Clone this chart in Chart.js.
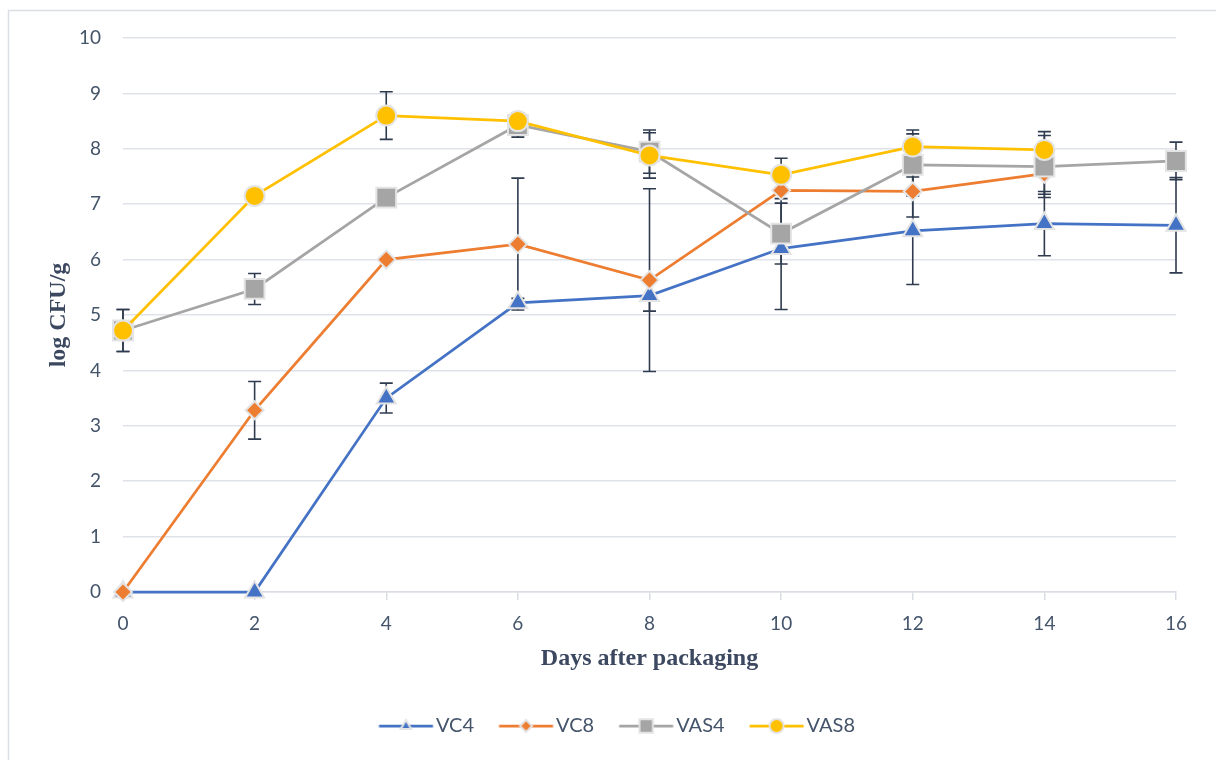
<!DOCTYPE html>
<html>
<head>
<meta charset="utf-8">
<title>log CFU/g vs days after packaging</title>
<script src="https://cdn.jsdelivr.net/npm/chart.js@4.4.1/dist/chart.umd.min.js"></script>
<style>
  html, body { margin: 0; padding: 0; background: #ffffff; }
  #wrap { position: relative; width: 1216px; height: 760px; }
  canvas { display: block; }
</style>
</head>
<body>
<div id="wrap"><canvas id="chart" width="1216" height="760"></canvas></div>
<script>
// Days after packaging
const days = [0, 2, 4, 6, 8, 10, 12, 14, 16];

// Mean counts (log CFU/g) per treatment
const VC4   = [0, 0, 3.5, 5.22, 5.35, 6.2, 6.52, 6.65, 6.62];
const VC8   = [0, 3.28, 6.0, 6.28, 5.63, 7.25, 7.23, 7.55, null];
const VAS4  = [4.72, 5.47, 7.12, 8.43, 7.95, 6.47, 7.71, 7.68, 7.78];
const VAS8  = [4.72, 7.15, 8.6, 8.5, 7.88, 7.53, 8.04, 7.98, null];

// Standard deviations (±)
const VC4_sd  = [0, 0, 0.27, 0.08, 0.28, 1.1, 0.97, 0.58, 0.86];
const VC8_sd  = [0, 0.52, 0.04, 1.19, 1.65, 0.15, 0.46, 0.37, null];
const VAS4_sd = [0.38, 0.28, 0.05, 0.22, 0.39, 0.55, 0.56, 0.56, 0.34];
const VAS8_sd = [0.38, 0.08, 0.43, 0.08, 0.41, 0.3, 0.3, 0.33, null];

// Y axis tick values
const yTicks = [0, 1, 2, 3, 4, 5, 6, 7, 8, 9, 10];

const TEXT = '#44546A';
const TITLE = '#3B4860';
const GRID = '#DFE3E9';
const ERR = '#2F3B4F';
const MARK_BORDER = '#E4E4E4';

const series = [
  { label: 'VC4',  values: VC4,  sd: VC4_sd,  color: '#4472C4', style: 'triangle', radius: 11, lr: 6 },
  { label: 'VC8',  values: VC8,  sd: VC8_sd,  color: '#ED7D31', style: 'rectRot',  radius: 9,  lr: 6 },
  { label: 'VAS4', values: VAS4, sd: VAS4_sd, color: '#A5A5A5', style: 'rect',     radius: 14, lr: 9.5 },
  { label: 'VAS8', values: VAS8, sd: VAS8_sd, color: '#FFC000', style: 'circle',   radius: 10, lr: 7 }
];

function toPoints(vals) {
  return days.map((d, i) => ({ x: d, y: vals[i] }));
}

// Legend symbol box width; the icon canvas is twice as wide so that,
// centred on the box, its drawn part starts at the box's left edge.
const LEG_BOX = 47;
const LEG_SYM = 54;

function legendIcon(s) {
  const c = document.createElement('canvas');
  c.width = LEG_BOX * 2; c.height = 22;
  const g = c.getContext('2d');
  const x0 = LEG_BOX / 2, cx = x0 + LEG_SYM / 2;
  g.strokeStyle = s.color;
  g.lineWidth = 2.75;
  g.beginPath(); g.moveTo(x0, 11); g.lineTo(x0 + LEG_SYM, 11); g.stroke();
  g.fillStyle = s.color;
  g.strokeStyle = MARK_BORDER;
  g.lineWidth = 2;
  Chart.helpers.drawPoint(g, { pointStyle: s.style, radius: s.lr, rotation: 0, borderWidth: 2 }, cx, 11);
  return c;
}

const frame = {
  id: 'frame',
  beforeDraw(chart) {
    const ctx = chart.ctx;
    ctx.save();
    ctx.fillStyle = '#ffffff';
    ctx.fillRect(0, 0, chart.width, chart.height);
    ctx.strokeStyle = '#DCE0E6';
    ctx.lineWidth = 1.5;
    ctx.strokeRect(8.5, 10.5, chart.width + 20, chart.height + 20);
    ctx.restore();
  }
};

// Centre the legend under the whole frame rather than the padded box
const legendShift = {
  id: 'legendShift',
  afterLayout(chart) {
    const lg = chart.legend;
    if (lg) { lg.left += 25; lg.right += 25; }
  }
};

// Vertical error bars with caps, drawn under the series
const errorBars = {
  id: 'errorBars',
  beforeDatasetsDraw(chart) {
    const ctx = chart.ctx;
    const xs = chart.scales.x, ys = chart.scales.y;
    ctx.save();
    ctx.strokeStyle = ERR;
    ctx.lineWidth = 1.6;
    series.forEach(s => {
      days.forEach((d, i) => {
        const v = s.values[i], e = s.sd[i];
        if (v === null || !e) return;
        const px = xs.getPixelForValue(d);
        const top = ys.getPixelForValue(v + e);
        const bot = ys.getPixelForValue(v - e);
        ctx.beginPath();
        ctx.moveTo(px, top); ctx.lineTo(px, bot);
        ctx.moveTo(px - 6.5, top); ctx.lineTo(px + 6.5, top);
        ctx.moveTo(px - 6.5, bot); ctx.lineTo(px + 6.5, bot);
        ctx.stroke();
      });
    });
    ctx.restore();
  }
};

const icons = series.map(legendIcon);

const datasets = series.map((s, i) => ({
  label: s.label,
  data: toPoints(s.values),
  borderColor: s.color,
  backgroundColor: s.color,
  borderWidth: 2.75,
  pointStyle: s.style,
  pointRadius: s.radius,
  pointHoverRadius: s.radius,
  pointBackgroundColor: s.color,
  pointBorderColor: MARK_BORDER,
  pointBorderWidth: 2,
  tension: 0,
  spanGaps: false,
  clip: false,
  order: series.length - i
}));

new Chart(document.getElementById('chart'), {
  type: 'line',
  data: { datasets },
  plugins: [frame, legendShift, errorBars],
  options: {
    responsive: false,
    animation: false,
    devicePixelRatio: 1,
    layout: { padding: { left: 8, right: 40, top: 38, bottom: 14 } },
    plugins: {
      tooltip: { enabled: false },
      legend: {
        position: 'bottom',
        labels: {
          usePointStyle: true,
          pointStyleWidth: LEG_BOX,
          padding: 25,
          color: TEXT,
          font: { family: 'Lato', size: 20 },
          sort: (a, b) => a.datasetIndex - b.datasetIndex,
          generateLabels(chart) {
            const items = Chart.defaults.plugins.legend.labels.generateLabels(chart);
            items.forEach(it => {
              it.pointStyle = icons[it.datasetIndex];
              it.fontColor = TEXT;
            });
            return items;
          }
        }
      }
    },
    scales: {
      x: {
        type: 'linear',
        min: 0,
        max: 16,
        ticks: {
          stepSize: 2,
          color: TEXT,
          padding: 12,
          font: { family: 'Lato', size: 19 }
        },
        grid: {
          drawOnChartArea: false,
          drawTicks: true,
          tickLength: 8,
          color: '#D9DDE3',
          lineWidth: 1.5
        },
        border: { display: true, color: '#D9DDE3', width: 1.5 },
        title: {
          display: true,
          text: 'Days after packaging',
          color: TITLE,
          font: { family: 'Liberation Serif', size: 24, weight: 'bold' },
          padding: { top: 0, bottom: 18 }
        },
        afterFit(scale) { scale.height = 99; }
      },
      y: {
        min: 0,
        max: 10,
        afterBuildTicks(scale) { scale.ticks = yTicks.map(v => ({ value: v })); },
        ticks: {
          color: TEXT,
          padding: 22,
          font: { family: 'Lato', size: 19 }
        },
        grid: {
          drawTicks: false,
          color: GRID,
          lineWidth: 1.5
        },
        border: { display: false },
        title: {
          display: true,
          text: 'log CFU/g',
          color: TITLE,
          font: { family: 'Liberation Serif', size: 24, weight: 'bold' },
          padding: { top: 36, bottom: 0 }
        },
        afterFit(scale) { scale.width = 115; }
      }
    }
  }
});
</script>
</body>
</html>
